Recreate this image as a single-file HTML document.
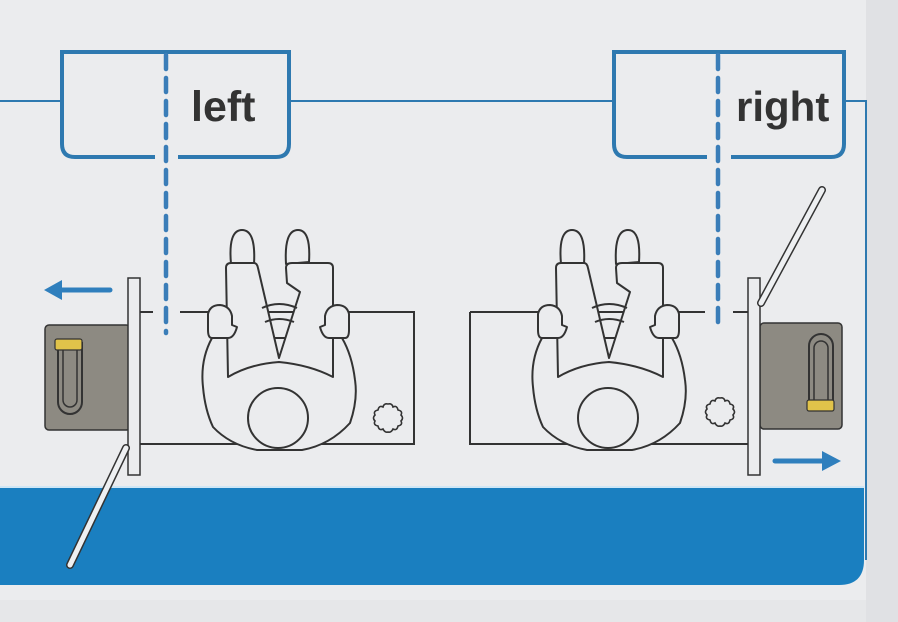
<!DOCTYPE html>
<html><head><meta charset="utf-8"><style>
html,body{margin:0;padding:0;background:#e6e7e9;}
svg{display:block}
</style></head><body>
<svg width="898" height="622" viewBox="0 0 898 622" xmlns="http://www.w3.org/2000/svg">
<rect x="0" y="0" width="898" height="622" fill="#e6e7e9"/>
<rect x="0" y="0" width="866" height="600" fill="#ebecee"/>
<rect x="866" y="0" width="32" height="622" fill="#e0e1e4"/>
<!-- blue band -->
<path d="M0 488 H864 V560 Q864 585 839 585 H0 Z" fill="#1a7fc0"/>
<line x1="0" y1="487" x2="864" y2="487" fill="none" stroke="#cfe6f5" stroke-width="2"/>
<!-- top line & card edge -->
<path d="M0 101 H60 M290 101 H613 M845 101 H866 V560" fill="none" stroke="#2e79b0" stroke-width="2"/>
<!-- label boxes -->
<path d="M155 157 H75 Q62 157 62 144 V52 H289 V144 Q289 157 276 157 H178" fill="none" stroke="#2e79b0" stroke-width="4"/>
<path d="M707 157 H627 Q614 157 614 144 V52 H844 V144 Q844 157 831 157 H731" fill="none" stroke="#2e79b0" stroke-width="4"/>
<text x="191" y="121" font-family="Liberation Sans, sans-serif" font-weight="bold" font-size="43" fill="#333">left</text>
<text x="736" y="121" font-family="Liberation Sans, sans-serif" font-weight="bold" font-size="42" fill="#333">right</text>
<!-- dashed lines -->
<line x1="166" y1="55" x2="166" y2="333" stroke="#3a7db8" stroke-width="4.5" stroke-dasharray="14 9" stroke-linecap="round"/>
<line x1="718" y1="55" x2="718" y2="330" stroke="#3a7db8" stroke-width="4.5" stroke-dasharray="14 9" stroke-linecap="round"/>
<!-- LEFT SCENE -->
<path d="M140 312 H153 M180 312 H414 V444 H140" fill="none" stroke="#333" stroke-width="2"/>
<rect x="45" y="325" width="85" height="105" rx="4" fill="#8d8a82" stroke="#333" stroke-width="1.5"/>
<path d="M58 342 V402 A12 12 0 0 0 82 402 V342" fill="none" stroke="#333" stroke-width="2"/>
<path d="M63 342 V400 A7 7 0 0 0 77 400 V342" fill="none" stroke="#333" stroke-width="1.5"/>
<rect x="55" y="339" width="27" height="11" rx="2" fill="#e1c34a" stroke="#333" stroke-width="1.2"/>
<rect x="128" y="278" width="12" height="197" fill="#ebecee" stroke="#333" stroke-width="1.5"/>
<path d="M126 448 L70 565" stroke="#333" stroke-width="8" stroke-linecap="round"/>
<path d="M126 448 L70 565" stroke="#eef0f2" stroke-width="5" stroke-linecap="round"/>
<path d="M110 290 H60" stroke="#2f7fbd" stroke-width="5" stroke-linecap="round"/>
<path d="M44 290 L62 280 L62 300 Z" fill="#2f7fbd"/>
<!-- RIGHT SCENE -->
<path d="M470 312 H705 M733 312 H750 M750 444 H470 V312" fill="none" stroke="#333" stroke-width="2"/>
<rect x="760" y="323" width="82" height="106" rx="4" fill="#8d8a82" stroke="#333" stroke-width="1.5"/>
<path d="M809 408 V346 A12 12 0 0 1 833 346 V408" fill="none" stroke="#333" stroke-width="2"/>
<path d="M814 408 V348 A7 7 0 0 1 828 348 V408" fill="none" stroke="#333" stroke-width="1.5"/>
<rect x="807" y="400" width="27" height="11" rx="2" fill="#e1c34a" stroke="#333" stroke-width="1.2"/>
<rect x="748" y="278" width="12" height="197" fill="#ebecee" stroke="#333" stroke-width="1.5"/>
<path d="M761 303 L822 190" stroke="#333" stroke-width="8" stroke-linecap="round"/>
<path d="M761 303 L822 190" stroke="#eef0f2" stroke-width="5" stroke-linecap="round"/>
<path d="M775 461 H825" stroke="#2f7fbd" stroke-width="5" stroke-linecap="round"/>
<path d="M841 461 L822 451 L822 471 Z" fill="#2f7fbd"/>
<!-- person definition -->
<defs>
<g id="p" fill="#ebecee" stroke="#333" stroke-width="2" stroke-linejoin="round">
<path d="M212 338 Q200 360 203 387 Q205 410 213 427 Q230 445 257 450 L302 450 Q330 445 350 423 Q358 400 355 380 Q352 355 342 338 Z"/>
<path d="M231 264 Q228 230 242 230 Q256 230 254 264 Z"/>
<path d="M286 264 Q284 230 298 230 Q311 230 309 262 Z"/>
<path d="M226 268 Q226 263 231 263 H254 Q257 263 258 268 L279 358 L300 292 L287 283 L286 268 Q286 263 292 263 H328 Q333 263 333 268 V377 Q310 365 279 362 Q250 364 228 377 Z"/>
<path d="M262 308 Q279 300 297 308 M265 322 Q279 316 294 322" fill="none"/>
<path d="M212 338 Q208 338 208 330 V314 Q210 305 220 305 Q230 306 232 316 V325 L237 327 Q234 338 228 338 Z"/>
<path d="M345 338 Q349 338 349 330 V314 Q347 305 337 305 Q327 306 325 316 V325 L320 327 Q323 338 329 338 Z"/>
<circle cx="278" cy="418" r="30"/>
</g>
<path id="k" d="M0 -14 Q4 -15 5 -11 Q9 -13 10 -8 Q15 -7 13 -3 Q16 0 13 3 Q15 7 10 8 Q9 13 5 11 Q3 15 0 14 Q-3 15 -5 11 Q-9 13 -10 8 Q-15 7 -13 3 Q-16 0 -13 -3 Q-15 -7 -10 -8 Q-9 -13 -5 -11 Q-4 -15 0 -14 Z" fill="none" stroke="#333" stroke-width="1.6"/>
</defs>
<use href="#p"/>
<use href="#p" transform="translate(330 0)"/>
<use href="#k" transform="translate(388 418)"/>
<use href="#k" transform="translate(720 412)"/>
</svg>
</body></html>
